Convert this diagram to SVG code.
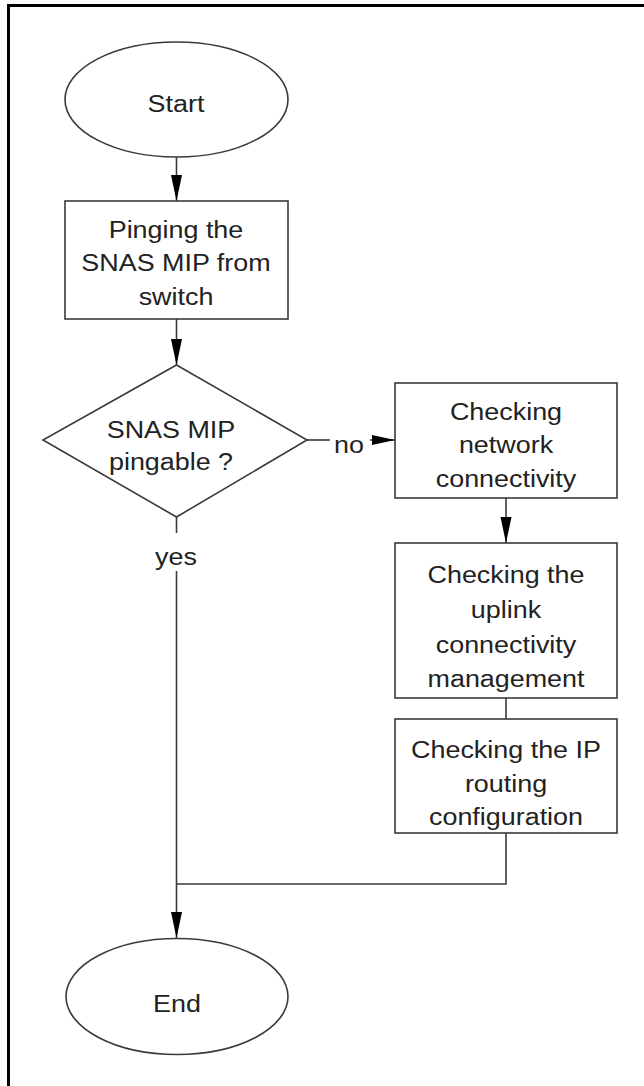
<svg xmlns="http://www.w3.org/2000/svg" width="644" height="1086" viewBox="0 0 644 1086">
<style>
.shape{fill:#fff;stroke:#3a3a3a;stroke-width:1.6}
.conn{fill:none;stroke:#3a3a3a;stroke-width:1.6}
.lbl{font-family:"Liberation Sans",Arial,sans-serif;font-size:23px;fill:#222;text-anchor:middle}
</style>
<defs>
<marker id="arr" markerUnits="userSpaceOnUse" markerWidth="28" markerHeight="12" refX="26" refY="6" orient="auto">
<path d="M0,0.5 L26,6 L0,11.5 z" fill="#000"/>
</marker>
<marker id="arrS" markerUnits="userSpaceOnUse" markerWidth="24" markerHeight="12" refX="23" refY="6" orient="auto">
<path d="M0,1 L23,6 L0,11 z" fill="#000"/>
</marker>
</defs>
<rect width="644" height="1086" fill="#fff"/>
<g id="frame" fill="none" stroke="#000" stroke-width="3">
<path d="M8.5,1086 V5.5 H644"/>
</g>
<g id="connectors">
<path class="conn" d="M176.5,157 V201" marker-end="url(#arr)"/>
<path class="conn" d="M176.5,319 V365" marker-end="url(#arr)"/>
<path class="conn" d="M307,440 H330"/>
<path class="conn" d="M370,440 H395" marker-end="url(#arrS)"/>
<path class="conn" d="M506,498 V543" marker-end="url(#arr)"/>
<path class="conn" d="M506,698 V719"/>
<path class="conn" d="M506,833 V884 H176.5"/>
<path class="conn" d="M176.5,517 V533"/>
<path class="conn" d="M176.5,571 V938" marker-end="url(#arr)"/>
<g transform="translate(349,0) scale(1.17,1)"><text class="lbl" x="0" y="453">no</text></g>
<g transform="translate(176,0) scale(1.17,1)"><text class="lbl" x="0" y="565">yes</text></g>
</g>
<g id="start">
<ellipse class="shape" cx="176.5" cy="99.5" rx="111.5" ry="57.5"/>
<g transform="translate(176,0) scale(1.17,1)"><text class="lbl" x="0" y="112">Start</text></g>
</g>
<g id="ping">
<rect class="shape" x="65" y="201" width="223" height="118"/>
<g transform="translate(176,0) scale(1.17,1)">
<text class="lbl" x="0" y="238">Pinging the</text>
<text class="lbl" x="0" y="271">SNAS MIP from</text>
<text class="lbl" x="0" y="305">switch</text>
</g>
</g>
<g id="decision">
<polygon class="shape" points="176.5,365 307,440 176.5,517 43,440"/>
<g transform="translate(171,0) scale(1.17,1)">
<text class="lbl" x="0" y="438">SNAS MIP</text>
<text class="lbl" x="0" y="470">pingable ?</text>
</g>
</g>
<g id="network">
<rect class="shape" x="395" y="383" width="222" height="115"/>
<g transform="translate(506,0) scale(1.17,1)">
<text class="lbl" x="0" y="420">Checking</text>
<text class="lbl" x="0" y="453">network</text>
<text class="lbl" x="0" y="487">connectivity</text>
</g>
</g>
<g id="uplink">
<rect class="shape" x="395" y="543" width="222" height="155"/>
<g transform="translate(506,0) scale(1.17,1)">
<text class="lbl" x="0" y="583">Checking the</text>
<text class="lbl" x="0" y="618">uplink</text>
<text class="lbl" x="0" y="653">connectivity</text>
<text class="lbl" x="0" y="687">management</text>
</g>
</g>
<g id="iprouting">
<rect class="shape" x="395" y="719" width="222" height="114"/>
<g transform="translate(506,0) scale(1.17,1)">
<text class="lbl" x="0" y="758">Checking the IP</text>
<text class="lbl" x="0" y="792">routing</text>
<text class="lbl" x="0" y="825">configuration</text>
</g>
</g>
<g id="end">
<ellipse class="shape" cx="177" cy="996.5" rx="111" ry="58"/>
<g transform="translate(177,0) scale(1.17,1)"><text class="lbl" x="0" y="1012">End</text></g>
</g>
</svg>
